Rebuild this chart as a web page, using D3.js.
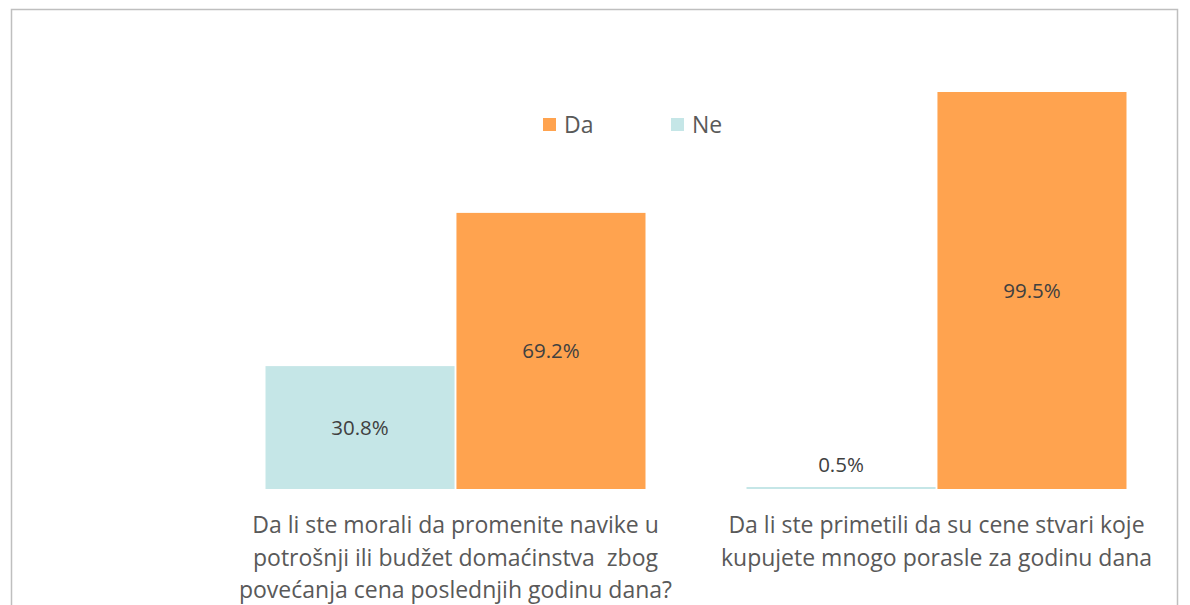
<!DOCTYPE html>
<html>
<head>
<meta charset="utf-8">
<script src="https://cdn.jsdelivr.net/npm/d3@7"></script>
<style>
  body { margin: 0; background: #fff; }
  svg { display: block; font-family: "Open Sans", sans-serif; }
  text { white-space: pre; }
</style>
</head>
<body>
<svg id="chart" width="1190" height="605"></svg>
<script>
// categories and series
var categories = [
  ["Da li ste morali da promenite navike u", "potrošnji ili budžet domaćinstva  zbog", "povećanja cena poslednjih godinu dana?"],
  ["Da li ste primetili da su cene stvari koje", "kupujete mnogo porasle za godinu dana"]
];
var seriesNames = ["Ne", "Da"];
var neValues = [30.8, 0.5];
var daValues = [69.2, 99.5];
var legendOrder = ["Da", "Ne"];

var colors = { Da: "#ffa34f", Ne: "#c5e6e7" };

var svg = d3.select("#chart");

// outer frame
svg.append("rect")
  .attr("x", 11.5).attr("y", 9.5)
  .attr("width", 1166).attr("height", 620)
  .attr("fill", "none")
  .attr("stroke", "#bfbfbf")
  .attr("stroke-width", 1.5);

var x = d3.scaleBand()
  .domain(d3.range(categories.length))
  .range([215, 1177])
  .paddingInner(0.21)
  .paddingOuter(0.105);

var xs = d3.scaleBand()
  .domain(seriesNames)
  .range([0, x.bandwidth()])
  .paddingInner(0.01);

var y = d3.scaleLinear().domain([0, 100]).range([489, 90]);

var rows = categories.map(function(c, i) {
  return [
    { cat: i, s: "Ne", v: neValues[i] },
    { cat: i, s: "Da", v: daValues[i] }
  ];
});

var groups = svg.selectAll("g.group")
  .data(rows)
  .join("g")
  .attr("class", "group")
  .attr("transform", function(d, i) { return "translate(" + x(i) + ",0)"; });

groups.selectAll("rect")
  .data(function(d) { return d; })
  .join("rect")
  .attr("x", function(d) { return xs(d.s); })
  .attr("y", function(d) { return y(d.v); })
  .attr("width", xs.bandwidth())
  .attr("height", function(d) { return y(0) - y(d.v); })
  .attr("fill", function(d) { return colors[d.s]; });

groups.selectAll("text.val")
  .data(function(d) { return d; })
  .join("text")
  .attr("class", "val")
  .attr("x", function(d) { return xs(d.s) + xs.bandwidth() / 2; })
  .attr("y", function(d) {
    var h = y(0) - y(d.v);
    return h < 30 ? y(d.v) - 22 : (y(d.v) + y(0)) / 2;
  })
  .attr("dy", "0.35em")
  .attr("text-anchor", "middle")
  .attr("font-size", 20.5)
  .attr("fill", "#404040")
  .text(function(d) { return d.v.toFixed(1) + "%"; });

// category labels
var catLabels = svg.selectAll("text.cat")
  .data(categories)
  .join("text")
  .attr("class", "cat")
  .attr("text-anchor", "middle")
  .attr("font-size", 23)
  .attr("fill", "#595959");

catLabels.selectAll("tspan")
  .data(function(d, i) { return d.map(function(line) { return { line: line, i: i }; }); })
  .join("tspan")
  .attr("x", function(d) { return x(d.i) + x.bandwidth() / 2; })
  .attr("y", function(d, j) { return 533 + j * 32.5; })
  .text(function(d) { return d.line; });

// legend
var legend = svg.selectAll("g.legend")
  .data(legendOrder)
  .join("g")
  .attr("class", "legend")
  .attr("transform", function(d, i) { return "translate(" + (543 + i * 128) + ",118)"; });

legend.append("rect")
  .attr("width", 13).attr("height", 13)
  .attr("fill", function(d) { return colors[d]; });

legend.append("text")
  .attr("x", 21).attr("y", 6.5)
  .attr("dy", "0.36em")
  .attr("font-size", 23)
  .attr("fill", "#595959")
  .text(function(d) { return d; });
</script>
</body>
</html>
